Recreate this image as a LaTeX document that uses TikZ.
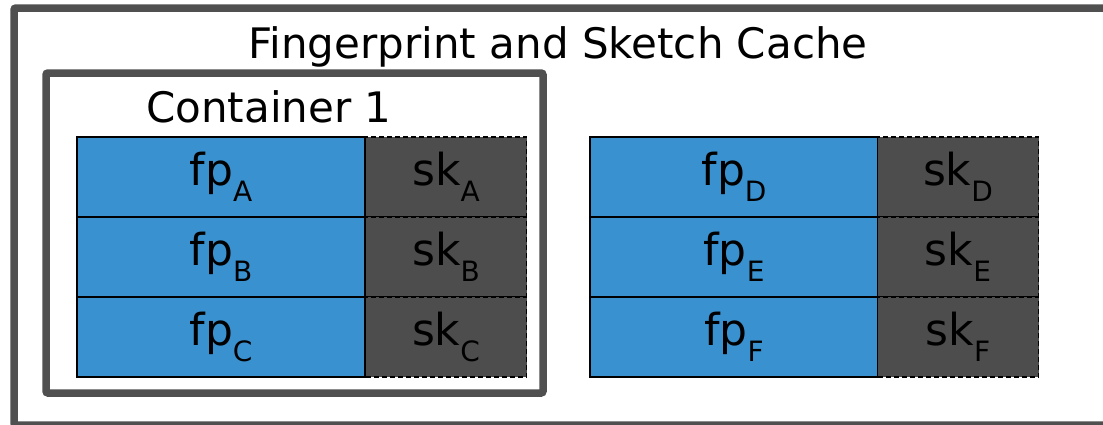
\documentclass[tikz,border=0pt]{standalone}
\usepackage{fontspec}
\setmainfont{DejaVu Sans}
\definecolor{frame}{RGB}{80,80,80}
\definecolor{fpblue}{RGB}{57,145,208}
\definecolor{skgray}{RGB}{77,77,77}
\newcommand{\lbl}[2]{#1\raisebox{-16pt}{\fontsize{28}{28}\selectfont #2}}
\begin{document}
\begin{tikzpicture}[x=1pt,y=-1pt,
  framebox/.style={draw=frame,line width=7.5pt,rounded corners=2pt},
  fpcell/.style={draw=black,line width=1.6pt,fill=fpblue,minimum width=288pt,minimum height=80pt,inner sep=0pt,font=\fontsize{44}{44}\selectfont},
  skcell/.style={draw=black,line width=1.8pt,dash pattern=on 5pt off 3pt,fill=skgray,minimum width=161pt,minimum height=80pt,inner sep=0pt,font=\fontsize{44}{44}\selectfont},
  title/.style={font=\fontsize{42}{42}\selectfont,inner sep=0pt,anchor=base}]
\useasboundingbox (0,0) rectangle (1103,424);
\begin{scope}
\clip (0,0) rectangle (1103,424);
\draw[framebox] (14,8) rectangle (1115,425);
\end{scope}
\node[title] (cachetitle) at (558,58) {Fingerprint and Sketch Cache};
\draw[framebox] (46,73) rectangle (543,393);
\node[title] (c1title) at (269,122) {Container 1};
% left container rows
\foreach \r [count=\i from 0] in {A,B,C}{
  \node[fpcell] (fp\r) at (221,{177+80*\i}) {\lbl{fp}{\r}};
  \node[skcell] (sk\r) at (446,{177+80*\i}) {\lbl{sk}{\r}};
}
% right block rows
\foreach \r [count=\i from 0] in {D,E,F}{
  \node[fpcell] (fp\r) at (734,{177+80*\i}) {\lbl{fp}{\r}};
  \node[skcell] (sk\r) at (958,{177+80*\i}) {\lbl{sk}{\r}};
}
\end{tikzpicture}
\end{document}
